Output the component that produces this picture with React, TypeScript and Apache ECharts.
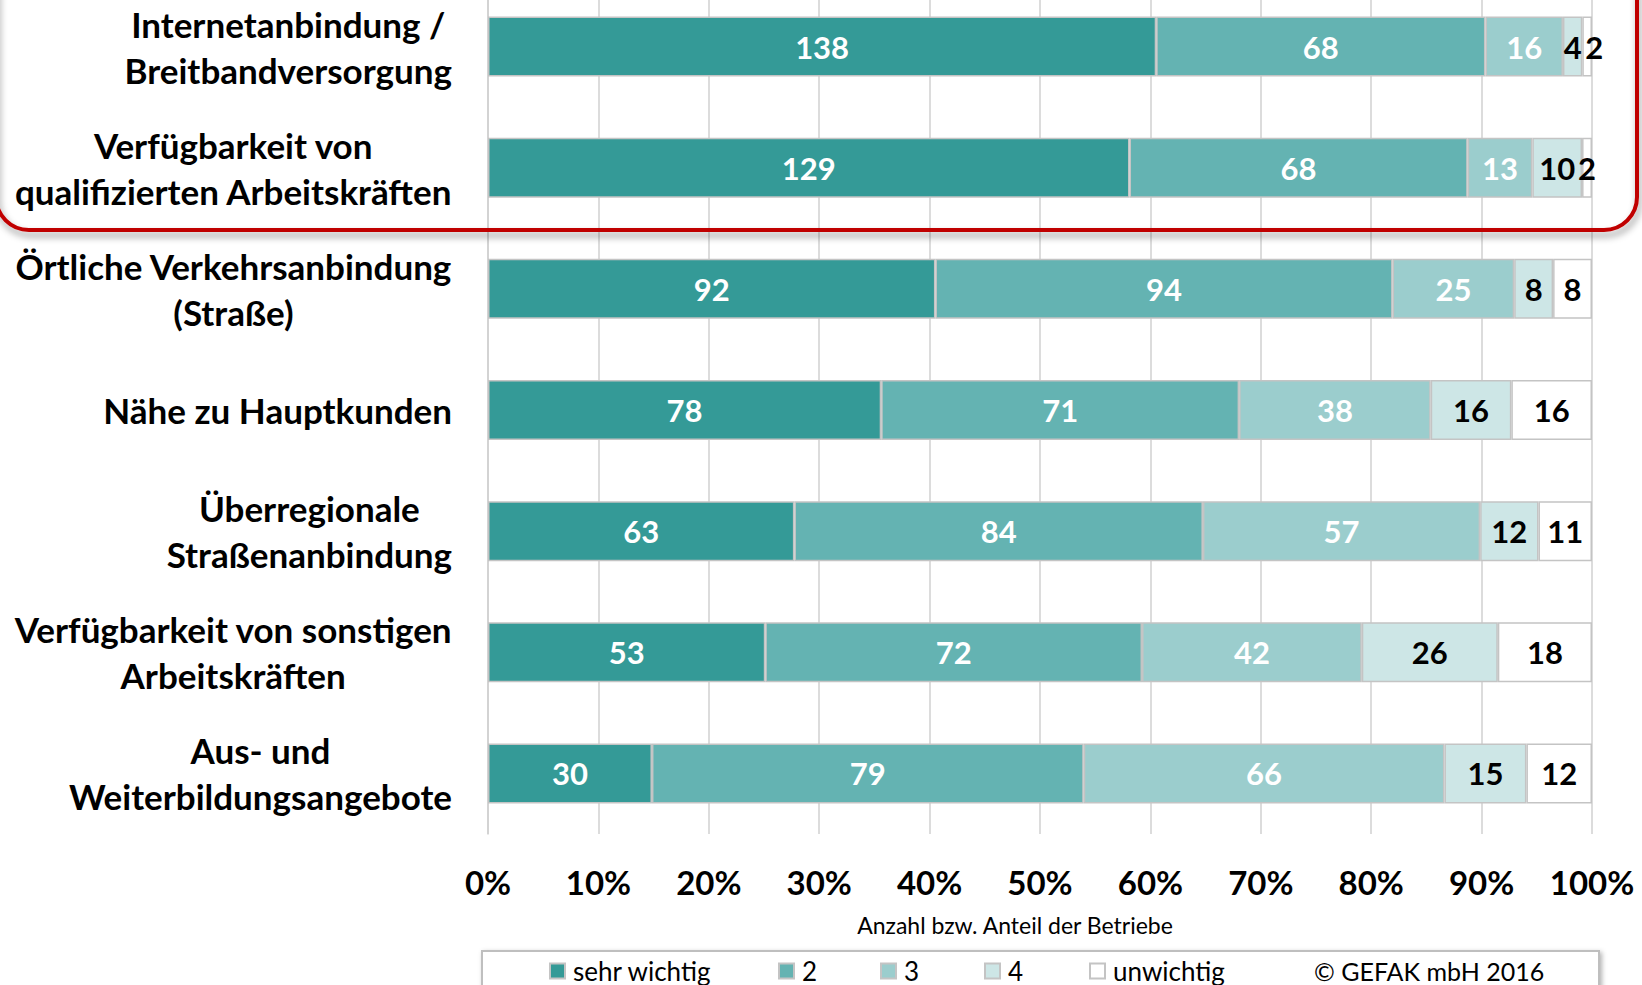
import React, { useEffect, useRef } from "react";
import * as echarts from "echarts";

const categories = [
  "Internetanbindung /\nBreitbandversorgung",
  "Verfügbarkeit von\nqualifizierten Arbeitskräften",
  "Örtliche Verkehrsanbindung\n(Straße)",
  "Nähe zu Hauptkunden",
  "Überregionale\nStraßenanbindung",
  "Verfügbarkeit von sonstigen\nArbeitskräften",
  "Aus- und\nWeiterbildungsangebote",
];

const seriesNames = ["sehr wichtig", "2", "3", "4", "unwichtig"];

const sehrWichtig = [138, 129, 92, 78, 63, 53, 30];
const zwei = [68, 68, 94, 71, 84, 72, 79];
const drei = [16, 13, 25, 38, 57, 42, 66];
const vier = [4, 10, 8, 16, 12, 26, 15];
const unwichtig = [2, 2, 8, 16, 11, 18, 12];

const counts = [sehrWichtig, zwei, drei, vier, unwichtig];

const xTicks = [0, 10, 20, 30, 40, 50, 60, 70, 80, 90, 100];

const colors = ["#349a97", "#64b3b2", "#9bcdcd", "#cde6e6", "#ffffff"];
const labelColors = ["#ffffff", "#ffffff", "#ffffff", "#000000", "#000000"];
const legendX = [549, 778, 880, 984, 1089];

const FONT = "Lato, 'Noto Sans', sans-serif";
// the chart canvas is shifted up so the plot area can start above the page top
const OY = 40;

export default function App() {
  const ref = useRef<HTMLDivElement>(null);

  useEffect(() => {
    if (!ref.current) return;
    const chart = echarts.init(ref.current, undefined, { renderer: "svg" });

    const totals = categories.map((_, i) =>
      counts.reduce((s, arr) => s + arr[i], 0)
    );

    const series = counts.map((arr, si) => ({
      name: seriesNames[si],
      type: "bar",
      stack: "total",
      barWidth: 60,
      data: arr.map((c, i) => {
        const item: any = { value: (c / totals[i]) * 100, count: c };
        if (si === 4 && i === 0) item.label = { offset: [7, 0] };
        return item;
      }),
      itemStyle: {
        color: colors[si],
        borderColor: "#c4c4c4",
        borderWidth: 1.5,
      },
      label: {
        show: true,
        position: "inside",
        formatter: (p: any) => String(p.data.count),
        color: labelColors[si],
        fontSize: 31,
        fontWeight: "bold",
        fontFamily: FONT,
      },
    }));

    const legends = seriesNames.map((n, i) => ({
      data: [n],
      left: legendX[i],
      top: 958 + OY,
      padding: 0,
      itemWidth: 15,
      itemHeight: 15,
      icon: "rect",
      itemGap: 0,
      textStyle: { fontSize: 26, fontFamily: FONT, color: "#000", padding: [0, 0, 0, 3] },
    }));

    chart.setOption({
      animation: false,
      backgroundColor: "#ffffff",
      grid: { left: 488, width: 1104, top: OY - 14, height: 848, containLabel: false },
      xAxis: {
        type: "value",
        min: 0,
        max: 100,
        interval: 10,
        axisLine: { show: false },
        axisTick: { show: false },
        splitLine: { show: true, lineStyle: { color: "#d0d0d0", width: 1.5 } },
        axisLabel: {
          formatter: (v: number) => (xTicks.includes(v) ? v + "%" : ""),
          fontSize: 33,
          fontWeight: "bold",
          fontFamily: FONT,
          color: "#000",
          margin: 31,
        },
      },
      yAxis: {
        type: "category",
        inverse: true,
        data: categories,
        axisLine: { show: true, lineStyle: { color: "#d0d0d0", width: 1.5 } },
        axisTick: { show: false },
        axisLabel: {
          margin: 36,
          formatter: (v: string) =>
            v
              .split("\n")
              .map((l) => "{c|" + l + "}")
              .join("\n"),
          rich: {
            c: {
              align: "center",
              fontSize: 35,
              fontWeight: "bold",
              fontFamily: FONT,
              color: "#000",
              lineHeight: 46,
            },
          },
        },
      },
      legend: legends,
      series,
      graphic: [
        {
          type: "rect",
          z: 100,
          shape: { x: -4, y: OY - 40, width: 1641, height: 270, r: 33 },
          style: {
            fill: "none",
            stroke: "#c00000",
            lineWidth: 4,
            shadowBlur: 7,
            shadowColor: "rgba(0,0,0,0.4)",
            shadowOffsetX: 2,
            shadowOffsetY: 5,
          },
        },
        {
          type: "rect",
          z: 0,
          shape: { x: 482, y: 951 + OY, width: 1117, height: 60 },
          style: {
            fill: "#ffffff",
            stroke: "#bfbfbf",
            lineWidth: 2,
            shadowBlur: 5,
            shadowColor: "rgba(0,0,0,0.3)",
            shadowOffsetX: 2,
            shadowOffsetY: 2,
          },
        },
        {
          type: "text",
          z: 10,
          x: 1314,
          y: 971 + OY,
          style: {
            text: "© GEFAK mbH 2016",
            fontSize: 25,
            fontFamily: FONT,
            fill: "#000",
            verticalAlign: "middle",
          },
        },
        {
          type: "text",
          z: 10,
          x: 1015,
          y: 925 + OY,
          style: {
            text: "Anzahl bzw. Anteil der Betriebe",
            fontSize: 23,
            fontFamily: FONT,
            fill: "#000",
            align: "center",
            verticalAlign: "middle",
          },
        },
      ],
    });

    return () => chart.dispose();
  }, []);

  return (
    <div
      ref={ref}
      style={{ position: "absolute", left: 0, top: -OY, width: 1642, height: 985 + OY }}
    />
  );
}
